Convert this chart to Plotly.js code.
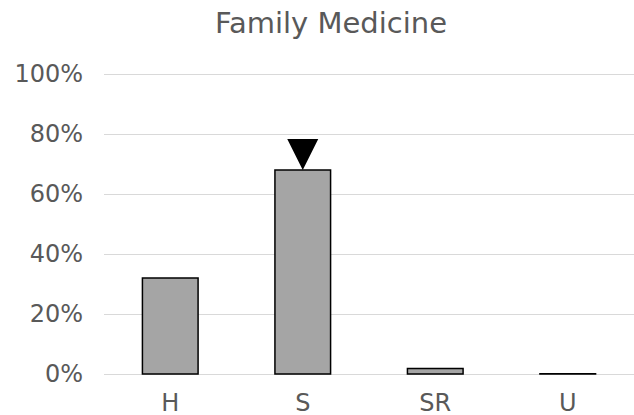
<!DOCTYPE html>
<html>
<head>
<meta charset="utf-8">
<script src="https://cdn.plot.ly/plotly-3.0.1.min.js"></script>
<style>html,body{margin:0;padding:0;background:#fff;}#chart{width:634px;height:415px;}</style>
</head>
<body>
<div id="chart"></div>
<script>
var categories = ["H", "S", "SR", "U"];
var shares = [32, 68, 1.8, 0.1];
var markerValues = [null, 68, null, null];
var yTickValues = [0, 20, 40, 60, 80, 100];
var yTickLabels = ["0%", "20%", "40%", "60%", "80%", "100%"];
var chartTitle = "Family Medicine";

var bars = {
  type: "bar",
  x: categories,
  y: shares,
  marker: {color: "#a5a5a5", line: {color: "#000000", width: 1.5}},
  hoverinfo: "x+y",
  showlegend: false
};
var pointer = {
  type: "scatter",
  mode: "markers",
  x: categories,
  y: markerValues,
  marker: {symbol: "arrow-down", size: 31, color: "#000000", line: {width: 0}},
  hoverinfo: "skip",
  showlegend: false,
  cliponaxis: false
};
var layout = {
  width: 634,
  height: 415,
  margin: {l: 104, r: 0, t: 71, b: 38},
  paper_bgcolor: "#ffffff",
  plot_bgcolor: "#ffffff",
  font: {family: "DejaVu Sans", color: "#595959", size: 24},
  bargap: 0.58,
  title: {
    text: chartTitle,
    font: {family: "DejaVu Sans", size: 29, color: "#595959"},
    x: 0.522, xanchor: "center", xref: "container",
    y: 0.946, yanchor: "middle", yref: "container"
  },
  xaxis: {
    type: "category",
    showgrid: false,
    zeroline: false,
    showline: false,
    ticks: "",
    ticklabelstandoff: 9,
    tickfont: {size: 24, color: "#595959"},
    automargin: false,
    fixedrange: true
  },
  yaxis: {
    range: [-1, 101],
    tickvals: yTickValues,
    ticktext: yTickLabels,
    showgrid: true,
    gridcolor: "#d9d9d9",
    gridwidth: 1,
    zeroline: false,
    showline: false,
    ticks: "",
    ticklabelstandoff: 20,
    tickfont: {size: 24, color: "#595959"},
    automargin: false,
    fixedrange: true
  }
};
Plotly.newPlot("chart", [bars, pointer], layout, {displayModeBar: false, staticPlot: true});
</script>
</body>
</html>
